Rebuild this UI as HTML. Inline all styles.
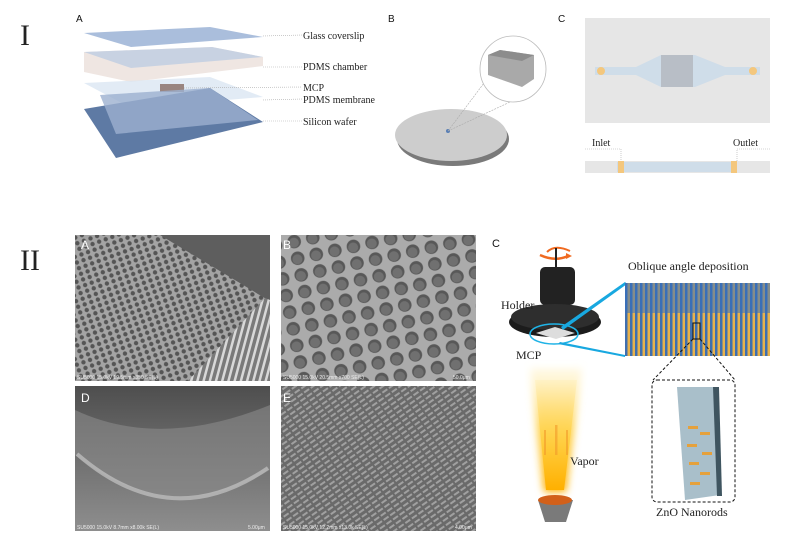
<!DOCTYPE html>
<html><head><meta charset="utf-8"><style>
body{margin:0;background:#fff;width:798px;height:543px;overflow:hidden}
svg{display:block}
.t{font-family:"Liberation Serif",serif;fill:#222}
.s{font-family:"Liberation Sans",sans-serif;fill:#111}
</style></head><body>
<svg width="798" height="543" viewBox="0 0 798 543" xmlns="http://www.w3.org/2000/svg">
<defs>
<pattern id="hexA" width="7" height="6" patternUnits="userSpaceOnUse" patternTransform="rotate(-20)">
<rect width="7" height="6" fill="#a4a4a4"/><circle cx="3.5" cy="3" r="2.2" fill="#555"/></pattern>
<pattern id="holeB" width="19" height="17" patternUnits="userSpaceOnUse" patternTransform="rotate(-12)">
<rect width="19" height="17" fill="#ababab"/><circle cx="9.5" cy="8.5" r="6.8" fill="#585858"/><circle cx="9" cy="9.5" r="5" fill="#707070"/></pattern>
<pattern id="strA" width="6" height="6" patternUnits="userSpaceOnUse" patternTransform="rotate(15)">
<rect width="6" height="6" fill="#7a7a7a"/><rect width="2.5" height="6" fill="#d8d8d8"/></pattern>
<pattern id="rodE" width="8" height="5" patternUnits="userSpaceOnUse" patternTransform="rotate(-35)">
<rect width="8" height="5" fill="#6a6a6a"/><rect width="6" height="2" fill="#a0a0a0"/></pattern>
<linearGradient id="gD" x1="0" y1="0" x2="0" y2="1"><stop offset="0" stop-color="#4e4e4e"/><stop offset=".6" stop-color="#767676"/><stop offset="1" stop-color="#8e8e8e"/></linearGradient>
<linearGradient id="vap" x1="0" y1="0" x2="0" y2="1"><stop offset="0" stop-color="#ffe9a0" stop-opacity=".25"/><stop offset=".5" stop-color="#ffd24a"/><stop offset="1" stop-color="#ffb000"/></linearGradient>
<pattern id="blk" width="5" height="5" patternUnits="userSpaceOnUse"><rect width="5" height="5" fill="#e7b24d"/><rect width="2.5" height="5" fill="#3f6fb0"/></pattern>
<filter id="bl"><feGaussianBlur stdDeviation="4"/></filter>
</defs>

<!-- Part I -->
<text x="20" y="45" class="t" font-size="30">I</text>
<text x="76" y="22" class="s" font-size="10">A</text>
<polygon points="84,33 210,27 263,37 131,47" fill="#9bb3d6" opacity=".85"/>
<polygon points="84,52 212,47 263,57 263,66 131,82 84,72" fill="#efe6e2"/>
<polygon points="84,52 212,47 263,57 131,68" fill="#c8d2e2"/>
<polygon points="84,83 210,77 263,97 131,108" fill="#dbe6f2" opacity=".8"/>
<rect x="160" y="84" width="24" height="8" fill="#9a8580"/>
<polygon points="84,109 210,88 263,122 116,158" fill="#5e7aa4"/>
<polygon points="100,95 210,88 258,120 116,134" fill="#9cb0cf" opacity=".8"/>
<g stroke="#aaa" stroke-width=".6" stroke-dasharray="1,1"><line x1="263" y1="36" x2="302" y2="35"/><line x1="263" y1="67" x2="302" y2="67"/><line x1="184" y1="88" x2="302" y2="87"/><line x1="263" y1="100" x2="302" y2="99"/><line x1="263" y1="121" x2="302" y2="121"/></g>
<g class="t" font-size="10"><text x="303" y="39">Glass coverslip</text><text x="303" y="70">PDMS chamber</text><text x="303" y="91">MCP</text><text x="303" y="103">PDMS membrane</text><text x="303" y="125">Silicon wafer</text></g>

<text x="388" y="22" class="s" font-size="10">B</text>
<ellipse cx="453" cy="139" rx="56" ry="27" fill="#7a7a7a"/>
<ellipse cx="451" cy="135" rx="56" ry="26" fill="#cdcdcd"/>
<circle cx="448" cy="131" r="2" fill="#5a7fb5"/>
<line x1="448" y1="131" x2="490" y2="75" stroke="#aaa" stroke-width=".6" stroke-dasharray="2,1"/>
<line x1="448" y1="131" x2="510" y2="102" stroke="#aaa" stroke-width=".6" stroke-dasharray="2,1"/>
<circle cx="513" cy="69" r="33" fill="#fff" stroke="#bbb" stroke-width=".8"/>
<polygon points="488,55 500,50 534,55 534,79 522,87 488,75" fill="#a9a9a9"/>
<polygon points="488,55 500,50 534,55 522,61" fill="#8c8c8c"/>

<text x="558" y="22" class="s" font-size="10">C</text>
<rect x="585" y="18" width="185" height="105" fill="#e6e6e6"/>
<polygon points="595,67 636,67 661,55 695,55 725,67 760,67 760,75 725,75 695,87 661,87 636,75 595,75" fill="#cfdde9"/>
<rect x="661" y="55" width="32" height="32" fill="#b8bec6"/>
<circle cx="601" cy="71" r="4" fill="#f4c77d"/><circle cx="753" cy="71" r="4" fill="#f4c77d"/>
<text x="592" y="146" class="t" font-size="10">Inlet</text><text x="733" y="146" class="t" font-size="10">Outlet</text>
<rect x="585" y="161" width="185" height="12" fill="#e6e6e6"/>
<rect x="617" y="162" width="120" height="10" fill="#cfdde9"/>
<rect x="618" y="161" width="6" height="12" fill="#f4c77d"/><rect x="731" y="161" width="6" height="12" fill="#f4c77d"/>
<path d="M585,149 H621 V161 M737,161 V149 H770" fill="none" stroke="#aaa" stroke-width=".6" stroke-dasharray="1,1"/>

<!-- Part II -->
<text x="20" y="270" class="t" font-size="30">II</text>
<rect x="75" y="235" width="195" height="146" fill="#5e5e5e"/>
<polygon points="75,235 160,235 268,300 210,381 75,381" fill="url(#hexA)"/>
<polygon points="265,298 270,300 270,381 188,381" fill="url(#strA)"/>
<rect x="281" y="235" width="195" height="146" fill="url(#holeB)"/>
<rect x="75" y="386" width="195" height="145" fill="url(#gD)"/>
<path d="M75,410 Q160,450 270,405 L270,470 Q170,530 75,455 Z" fill="#8a8a8a" opacity=".6"/>
<path d="M77,454 Q170,535 268,468" fill="none" stroke="#c4c4c4" stroke-width="4" opacity=".7"/>
<rect x="281" y="386" width="195" height="145" fill="url(#rodE)"/>
<g class="s" font-size="12"><text x="81" y="249" fill="#fff">A</text><text x="283" y="249" fill="#fff">B</text><text x="81" y="402" fill="#fff">D</text><text x="283" y="402" fill="#fff">E</text></g>
<g font-family="Liberation Sans,sans-serif" font-size="5" fill="#eee"><text x="77" y="379">SU5000 15.0kV 19.5mm x350 SE(L)</text><text x="283" y="379">SU5000 15.0kV 20.5mm x700 SE(L)</text><text x="453" y="379">50.0μm</text><text x="77" y="529">SU5000 15.0kV 8.7mm x8.00k SE(L)</text><text x="248" y="529">5.00μm</text><text x="283" y="529">SU5000 15.0kV 12.2mm x13.0k SE(L)</text><text x="455" y="529">4.00μm</text></g>

<text x="492" y="247" class="s" font-size="11">C</text>
<path d="M547,252 Q555,244 570,251" fill="none" stroke="#f06a20" stroke-width="2"/>
<path d="M540,255 Q555,262 568,256" fill="none" stroke="#f06a20" stroke-width="2.5"/>
<polygon points="566,253 572,256 566,259" fill="#f06a20"/>
<rect x="555" y="248" width="2" height="20" fill="#222"/>
<rect x="540" y="267" width="35" height="38" rx="5" fill="#222"/>
<ellipse cx="555" cy="322" rx="46" ry="15" fill="#1c1c1c"/>
<ellipse cx="555" cy="317" rx="44" ry="13" fill="#2e2e2e"/>
<polygon points="536,333 555,327 575,333 556,339" fill="#ddd"/>
<ellipse cx="554" cy="334" rx="24" ry="10" fill="none" stroke="#1fb3e6" stroke-width="1.5"/>
<polygon points="561,327 625,282 627,284 563,330" fill="#18a8e0"/>
<polygon points="560,342 625,355 625,357 558,344" fill="#18a8e0"/>
<text x="501" y="309" class="t" font-size="12">Holder</text>
<text x="516" y="359" class="t" font-size="12">MCP</text>
<text x="628" y="270" class="t" font-size="12">Oblique angle deposition</text>
<rect x="625" y="283" width="145" height="73" fill="url(#blk)"/>
<rect x="625" y="283" width="145" height="30" fill="#3570c0" opacity=".55"/>
<rect x="693" y="323" width="7" height="16" fill="none" stroke="#111" stroke-width="1"/>
<polygon points="530,368 582,368 566,492 544,492" fill="url(#vap)" filter="url(#bl)"/>
<polygon points="535,380 577,380 564,490 546,490" fill="url(#vap)"/>
<g fill="#f39a2a" opacity=".6"><rect x="544" y="430" width="2" height="25"/><rect x="555" y="425" width="2.5" height="30"/><rect x="566" y="430" width="2" height="25"/></g>
<text x="570" y="465" class="t" font-size="12">Vapor</text>
<polygon points="538,500 573,500 566,522 545,522" fill="#7a7a7a"/>
<ellipse cx="555" cy="500" rx="17" ry="5" fill="#d2601a"/>
<path d="M693,339 L653,380 M700,339 L735,380" stroke="#111" stroke-dasharray="3,2" fill="none"/>
<rect x="652" y="380" width="83" height="122" rx="5" fill="none" stroke="#111" stroke-dasharray="3,2"/>
<polygon points="677,387 715,387 720,495 685,500" fill="#a9bfca"/>
<polygon points="713,387 719,387 722,496 717,496" fill="#3f5560"/>
<g fill="#e5a13c"><rect x="688" y="426" width="10" height="3"/><rect x="700" y="432" width="10" height="3"/><rect x="687" y="444" width="10" height="3"/><rect x="702" y="452" width="10" height="3"/><rect x="689" y="462" width="10" height="3"/><rect x="700" y="472" width="10" height="3"/><rect x="690" y="482" width="10" height="3"/></g>
<text x="656" y="516" class="t" font-size="12">ZnO Nanorods</text>
</svg>
</body></html>
